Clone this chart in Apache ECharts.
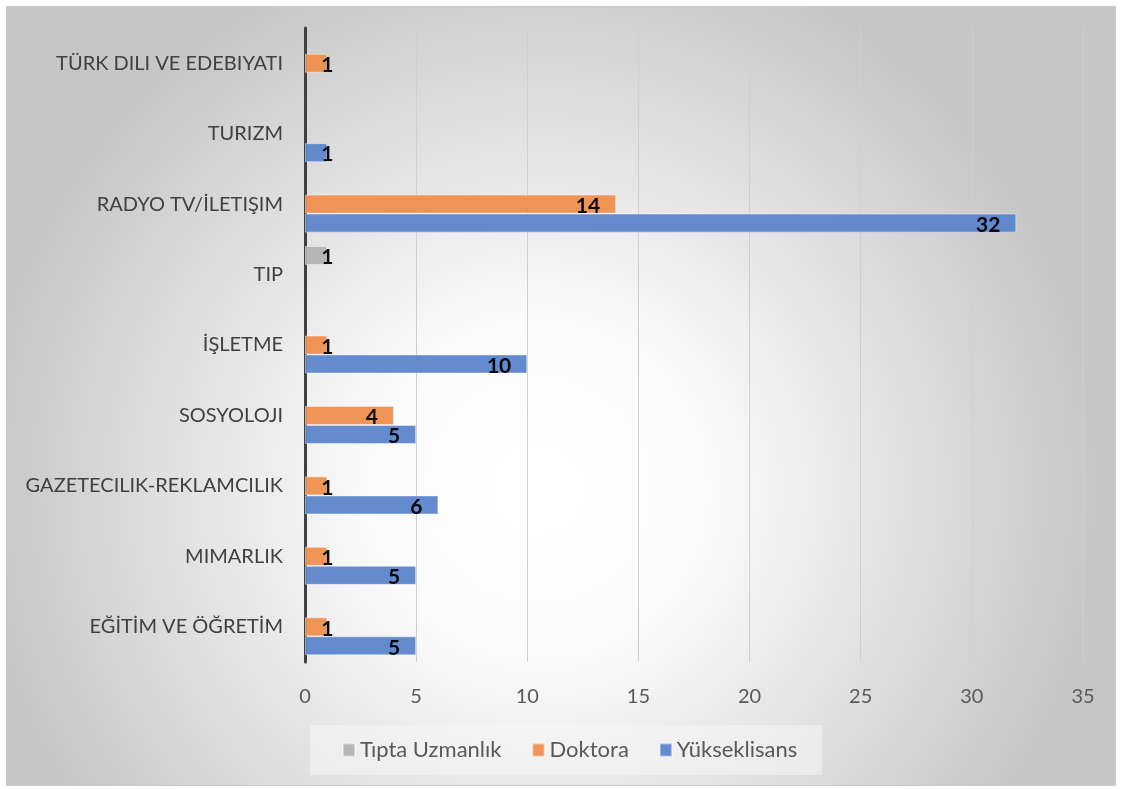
<!DOCTYPE html>
<html>
<head>
<meta charset="utf-8">
<script src="https://cdn.jsdelivr.net/npm/echarts@6/dist/echarts.min.js"></script>
<style>
  html, body { margin: 0; padding: 0; background: #ffffff; }
  #chart {
    position: absolute;
    left: 6px;
    top: 6px;
    width: 1110px;
    height: 780px;
    border: 1px solid #c9c9c9;
    box-sizing: border-box;
  }
</style>
</head>
<body>
<div id="chart"></div>
<script>
// categories from bottom to top
const categories = ['EĞİTİM VE ÖĞRETİM', 'MIMARLIK', 'GAZETECILIK-REKLAMCILIK', 'SOSYOLOJI', 'İŞLETME', 'TIP', 'RADYO TV/İLETIŞIM', 'TURIZM', 'TÜRK DILI VE EDEBIYATI']
const tiptaUzmanlik = [null, null, null, null, null, 1, null, null, null]
const doktora = [1, 1, 1, 4, 1, null, 14, null, 1]
const yukseklisans = [5, 5, 6, 5, 10, null, 32, 1, null]
const seriesNames = ['Tıpta Uzmanlık', 'Doktora', 'Yükseklisans']

const font = 'Lato, "Open Sans", sans-serif'

// small bars get their label sitting over the bar end
const withLabels = (values) => values.map(v => {
  if (v === null) return null
  if (v <= 1) {
    return {value: v, label: {position: 'right', distance: -6}}
  }
  return v
})

const makeSeries = (name, values, color) => ({
  name: name,
  type: 'bar',
  data: withLabels(values),
  barGap: '0%',
  barCategoryGap: '19%',
  itemStyle: {
    color: color,
    borderColor: 'rgba(255,255,255,0.45)',
    borderWidth: 1,
    opacity: 0.95
  },
  label: {
    show: true,
    position: 'insideRight',
    distance: 16,
    offset: [0, 2],
    color: '#000000',
    fontWeight: 'bold',
    fontSize: 21,
    fontFamily: font
  }
})

const chart = echarts.init(document.getElementById('chart'))
chart.setOption({
  backgroundColor: {
    type: 'radial',
    x: 0.48,
    y: 0.62,
    r: 0.72,
    colorStops: [
      {offset: 0, color: '#ffffff'},
      {offset: 0.3, color: '#fbfbfb'},
      {offset: 1, color: '#c6c6c6'}
    ]
  },
  animation: false,
  grid: {
    left: 298,
    right: 32,
    top: 21,
    bottom: 123
  },
  legend: {
    data: seriesNames,
    left: 303,
    top: 718,
    padding: [14, 25, 14, 32],
    backgroundColor: 'rgba(245,245,245,0.55)',
    icon: 'rect',
    itemWidth: 12,
    itemHeight: 13,
    itemGap: 30,
    textStyle: {
      fontSize: 22,
      color: '#595959',
      fontFamily: font
    }
  },
  xAxis: {
    type: 'value',
    min: 0,
    max: 35,
    interval: 5,
    axisLine: {show: false},
    axisTick: {show: false},
    splitLine: {
      lineStyle: {color: '#cfcfcf', width: 1}
    },
    axisLabel: {
      margin: 25,
      fontSize: 20,
      color: '#595959',
      fontFamily: font
    }
  },
  yAxis: {
    type: 'category',
    data: categories,
    axisLine: {
      lineStyle: {color: '#404040', width: 3}
    },
    axisTick: {show: false},
    axisLabel: {
      margin: 22,
      fontSize: 20,
      color: '#404040',
      fontFamily: font
    }
  },
  series: [
    makeSeries(seriesNames[0], tiptaUzmanlik, '#b3b3b3'),
    makeSeries(seriesNames[1], doktora, '#ef8f4f'),
    makeSeries(seriesNames[2], yukseklisans, '#5b85cb')
  ]
})
</script>
</body>
</html>
